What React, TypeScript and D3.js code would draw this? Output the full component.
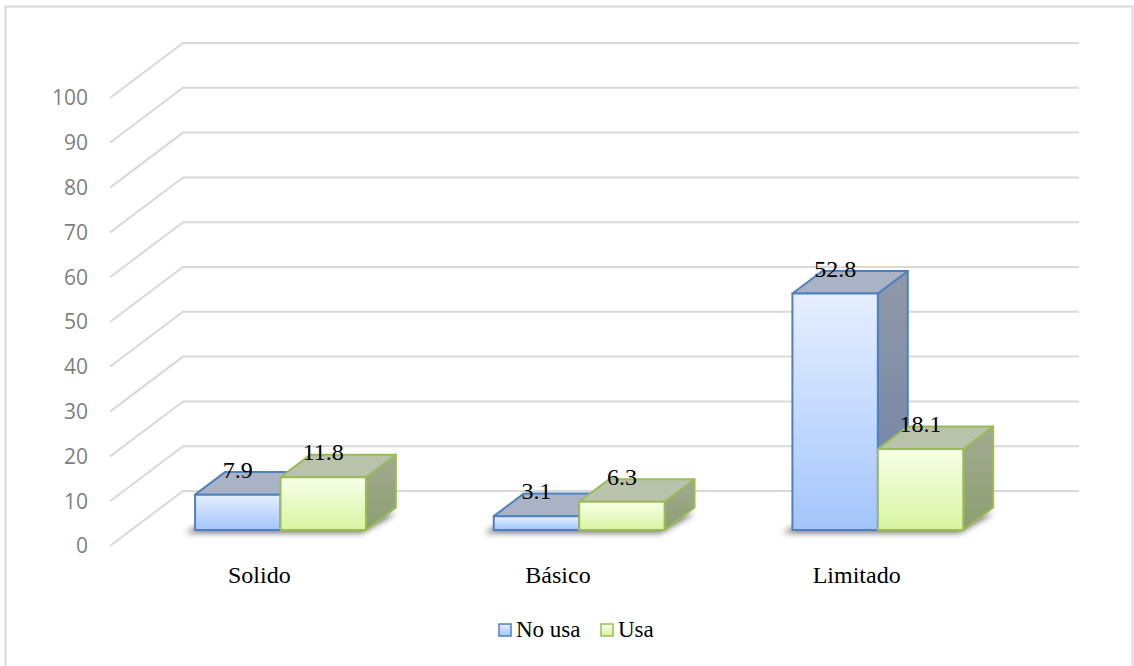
import React from "react";
import * as d3 from "d3";

const categories = ["Solido", "Básico", "Limitado"];
const seriesNames = ["No usa", "Usa"];
const noUsa = [7.9, 3.1, 52.8];
const usa = [11.8, 6.3, 18.1];
const yTicks = [0, 10, 20, 30, 40, 50, 60, 70, 80, 90, 100];

const W = 1134;
const H = 666;
const SERIF = "'Liberation Serif', 'Times New Roman', serif";

// Oblique projection of the 3D plot box
const FRONT_X = 110;
const FRONT_Y = 546;
const DEPTH_DX = 73;
const DEPTH_DY = -55;
const WALL_W = 896;
const BAR_D0 = 0.29;
const BAR_D1 = 0.7;

const y = d3.scaleLinear().domain([0, 100]).range([0, 448]);
const xCat = d3
  .scaleBand<string>()
  .domain(categories)
  .range([0, WALL_W])
  .paddingInner(0.428)
  .paddingOuter(0.214);
const xSer = d3.scaleBand<string>().domain(seriesNames).range([0, xCat.bandwidth()]);

const plane = (d: number) => ({ x: FRONT_X + DEPTH_DX * d, y: FRONT_Y + DEPTH_DY * d });

const styles = [
  {
    stroke: "#4f81bd",
    grad: ["#e6efff", "#a3c5fb"],
    top: "#a9b3c5",
    side: ["#9199a8", "#6c82a8"],
  },
  {
    stroke: "#9bbb59",
    grad: ["#f8ffea", "#d8f4a0"],
    top: "#b9c3ab",
    side: ["#a3aa92", "#8c9f70"],
  },
];

const pts = (p: number[][]) => p.map((q) => q.join(",")).join(" ");

export default function App() {
  const front = plane(BAR_D0);
  const back = plane(BAR_D1);
  const bdx = back.x - front.x;
  const bdy = back.y - front.y;
  const values = [noUsa, usa];
  const line = d3.line();

  const bars: any[] = [];
  const shadows: any[] = [];
  const labels: any[] = [];
  categories.forEach((c, ci) => {
    const gx0 = front.x + (xCat(c) as number);
    shadows.push(
      <polygon
        key={"sh" + ci}
        points={pts([
          [gx0 - 10, front.y + 3],
          [gx0 + xCat.bandwidth() - 4, front.y + 3],
          [gx0 + xCat.bandwidth() + bdx, front.y + bdy + 6],
          [gx0 + bdx - 4, front.y + bdy + 6],
        ])}
        fill="#000"
        opacity={0.55}
        filter="url(#blur)"
      />
    );
    seriesNames.forEach((s, si) => {
      const v = values[si][ci];
      const x0 = gx0 + (xSer(s) as number);
      const x1 = x0 + xSer.bandwidth();
      const yb = front.y;
      const yt = front.y - y(v);
      const st = styles[si];
      bars.push(
        <g key={`b${ci}-${si}`} strokeWidth={2} stroke={st.stroke} strokeLinejoin="round">
          <polygon
            points={pts([
              [x1, yt],
              [x1 + bdx, yt + bdy],
              [x1 + bdx, yb + bdy],
              [x1, yb],
            ])}
            fill={`url(#side${si})`}
          />
          <polygon
            points={pts([
              [x0, yt],
              [x0 + bdx, yt + bdy],
              [x1 + bdx, yt + bdy],
              [x1, yt],
            ])}
            fill={st.top}
          />
          <rect x={x0} y={yt} width={x1 - x0} height={yb - yt} fill={`url(#front${si})`} />
        </g>
      );
      labels.push(
        <text
          key={`l${ci}-${si}`}
          x={(x0 + x1) / 2}
          y={yt - 17}
          textAnchor="middle"
          fontFamily={SERIF}
          fontSize={24}
          fill="#000"
        >
          {v}
        </text>
      );
    });
  });

  const f0 = plane(0);
  const b1 = plane(1);

  return (
    <svg
      width={W}
      height={H}
      style={{ position: "absolute", left: 0, top: 0, background: "#fff" }}
    >
      <defs>
        {styles.map((st, i) => (
          <linearGradient key={"f" + i} id={"front" + i} x1="0" y1="0" x2="0" y2="1">
            <stop offset="0" stopColor={st.grad[0]} />
            <stop offset="1" stopColor={st.grad[1]} />
          </linearGradient>
        ))}
        {styles.map((st, i) => (
          <linearGradient key={"s" + i} id={"side" + i} x1="0" y1="0" x2="0" y2="1">
            <stop offset="0" stopColor={st.side[0]} />
            <stop offset="1" stopColor={st.side[1]} />
          </linearGradient>
        ))}
        <filter id="blur" x="-20%" y="-50%" width="140%" height="200%">
          <feGaussianBlur stdDeviation="3" />
        </filter>
      </defs>
      <rect x={5.5} y={6.5} width={1127} height={700} fill="#fff" stroke="#d9d9d9" strokeWidth={2} />

      {/* side and back wall gridlines */}
      <g stroke="#d9d9d9" strokeWidth={2} fill="none">
        {yTicks.map((t) => (
          <path
            key={"g" + t}
            d={
              line([
                [f0.x, f0.y - y(t)],
                [b1.x, b1.y - y(t)],
                [b1.x + WALL_W, b1.y - y(t)],
              ]) as string
            }
          />
        ))}
      </g>

      {/* value axis */}
      <g fontFamily="'Open Sans', sans-serif" fontSize={21} fill="#7f7f7f" textAnchor="end">
        {yTicks.map((t) => (
          <text key={"t" + t} x={88} y={f0.y - y(t)} dy="0.35em">
            {t}
          </text>
        ))}
      </g>

      {shadows}
      {bars}
      {labels}

      {/* category axis */}
      <g fontFamily={SERIF} fontSize={24} fill="#000" textAnchor="middle">
        {categories.map((c) => (
          <text key={c} x={f0.x + (xCat(c) as number) + xCat.bandwidth() / 2} y={583}>
            {c}
          </text>
        ))}
      </g>

      {/* legend */}
      <g fontFamily={SERIF} fontSize={23} fill="#000">
        {seriesNames.map((s, i) => {
          const lx = [499, 601][i];
          return (
            <g key={s}>
              <rect x={lx} y={624} width={12} height={12} fill={`url(#front${i})`} stroke={styles[i].stroke} strokeWidth={1.5} />
              <text x={lx + 17} y={637}>
                {s}
              </text>
            </g>
          );
        })}
      </g>
    </svg>
  );
}
